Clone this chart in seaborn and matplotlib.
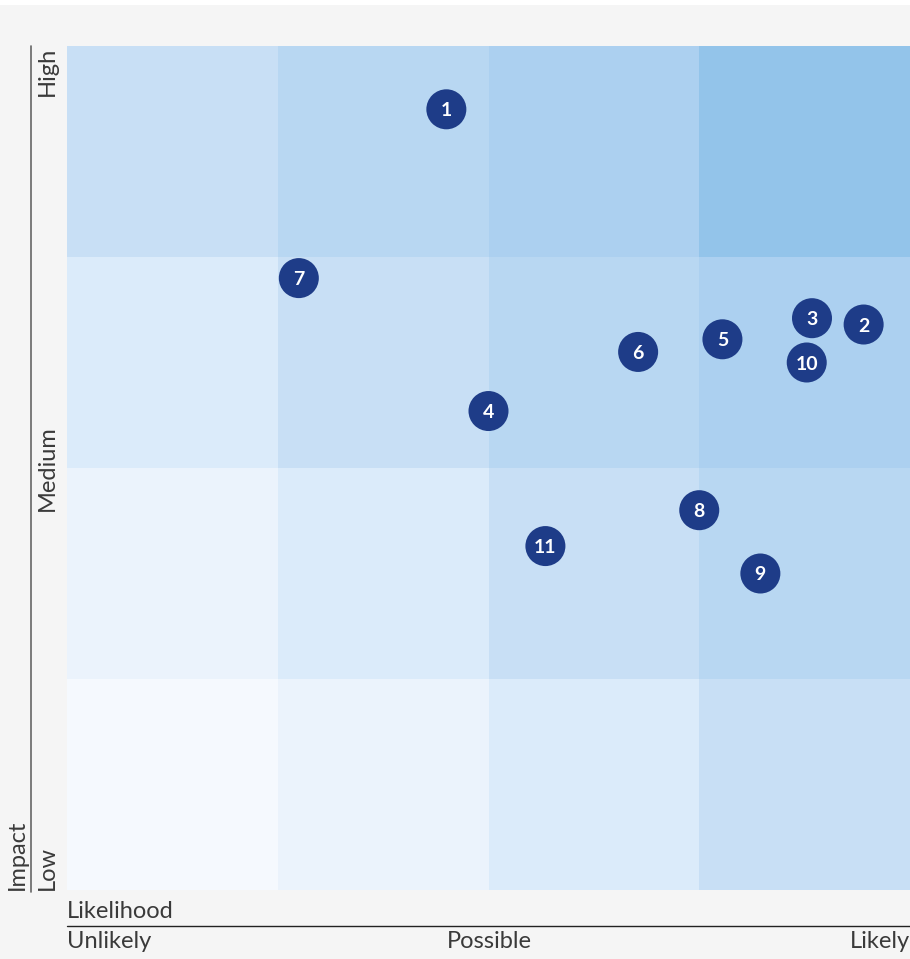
import numpy as np
import pandas as pd
import matplotlib
matplotlib.use("Agg")
import matplotlib.pyplot as plt
from matplotlib.colors import ListedColormap
from matplotlib.lines import Line2D
import seaborn as sns

# ---- data ----
risk_ids = ["1", "2", "3", "4", "5", "6", "7", "8", "9", "10", "11"]
likelihood = [1.80, 3.78, 3.535, 2.00, 3.11, 2.71, 1.10, 3.00, 3.29, 3.51, 2.27]
impact = [3.70, 2.68, 2.71, 2.27, 2.61, 2.55, 2.90, 1.80, 1.50, 2.50, 1.63]
x_tick_labels = ["Unlikely", "Possible", "Likely"]
y_tick_labels = ["Low", "Medium", "High"]
grid_levels = 4
cell_colors = ["#f5f9fe", "#ebf3fc", "#dbebfa", "#c8dff5", "#b8d7f2", "#acd0f0", "#93c4ea"]

sns.set_theme(style="white")
plt.rcParams["font.family"] = ["Lato", "DejaVu Sans"]

W, H = 910, 959
fig = plt.figure(figsize=(W / 100, H / 100), dpi=100, facecolor="#f5f5f5")

def fx(px):
    return px / W

def fy(py):
    return 1 - py / H

# white top strip
fig.add_artist(plt.Rectangle((0, fy(5)), 1, 1 - fy(5), transform=fig.transFigure,
                             facecolor="white", edgecolor="none"))

left, right, top, bottom = 67, 910, 46, 890
ax = fig.add_axes([fx(left), fy(bottom), fx(right) - fx(left), fy(top) - fy(bottom)])

# cell score = row + column (row 0 = low impact)
score = np.add.outer(np.arange(grid_levels), np.arange(grid_levels))
sns.heatmap(pd.DataFrame(score), ax=ax, cmap=ListedColormap(cell_colors), vmin=-0.5,
            vmax=len(cell_colors) - 0.5, cbar=False, linewidths=0, square=False)
ax.set_xlim(0, grid_levels)
ax.set_ylim(0, grid_levels)
ax.set_xticks([])
ax.set_yticks([])
for s in ax.spines.values():
    s.set_visible(False)

df = pd.DataFrame({"id": risk_ids, "x": likelihood, "y": impact})
sns.scatterplot(data=df, x="x", y="y", ax=ax, s=830, color="#1e3c88",
                edgecolor="none", linewidth=0, legend=False, zorder=3)
for _, r in df.iterrows():
    ax.text(r["x"], r["y"], r["id"], color="white", ha="center", va="center_baseline",
            fontsize=14, fontweight="bold", zorder=4)
ax.set_xlabel("")
ax.set_ylabel("")

txt_color = "#3a3a3a"
fs = 17
fw = "normal"
# left axis line
fig.add_artist(Line2D([fx(31), fx(31)], [fy(46), fy(892)], transform=fig.transFigure,
                      color="#666666", linewidth=1.2))
# bottom axis line
fig.add_artist(Line2D([fx(67), fx(910)], [fy(926), fy(926)], transform=fig.transFigure,
                      color="#222222", linewidth=1.0))

# y tick labels
fig.text(fx(47), fy(890), y_tick_labels[0], rotation=90, ha="center", va="bottom",
         fontsize=fs, fontweight=fw, color=txt_color)
fig.text(fx(47), fy(468), y_tick_labels[1], rotation=90, ha="center", va="center",
         fontsize=fs, fontweight=fw, color=txt_color)
fig.text(fx(47), fy(47), y_tick_labels[2], rotation=90, ha="center", va="top",
         fontsize=fs, fontweight=fw, color=txt_color)
fig.text(fx(17), fy(890), "Impact", rotation=90, ha="center", va="bottom",
         fontsize=fs, fontweight=fw, color=txt_color)

# x labels
fig.text(fx(67), fy(912), "Likelihood", ha="left", va="center",
         fontsize=fs, fontweight=fw, color=txt_color)
fig.text(fx(67), fy(942), x_tick_labels[0], ha="left", va="center",
         fontsize=fs, fontweight=fw, color=txt_color)
fig.text(fx(489), fy(942), x_tick_labels[1], ha="center", va="center",
         fontsize=fs, fontweight=fw, color=txt_color)
fig.text(fx(910), fy(942), x_tick_labels[2], ha="right", va="center",
         fontsize=fs, fontweight=fw, color=txt_color)

fig.savefig("out.png", dpi=100, facecolor=fig.get_facecolor())
